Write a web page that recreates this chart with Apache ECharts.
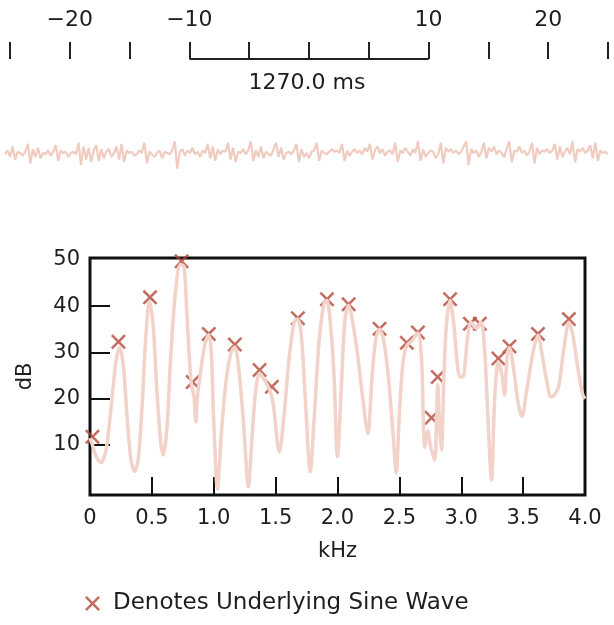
<!DOCTYPE html>
<html>
<head>
<meta charset="utf-8">
<script src="https://cdn.jsdelivr.net/npm/echarts@6/dist/echarts.min.js"></script>
<style>html,body{margin:0;padding:0;background:#fff}#c{width:614px;height:625px}</style>
</head>
<body>
<div id="c"></div>
<script>
// Top time scale
const timeTickLabels = [-20, -10, 10, 20];
const bracketRange = [-10, 10];
const bracketLabel = '1270.0 ms';

// Waveform samples (arbitrary units)
const waveform = [
 0.0, 0.3, -0.2, 0.6, -0.4, 0.2, 0.1, -0.1, 0.2,
 0.8, -0.7, 0.4, -0.2, 0.5, -0.3, 0.1, 0.0, 0.3,
 -0.1, 0.2, 0.7, -0.5, 0.3, 0.1, 0.2, -0.2, 0.1,
 0.2, 0.0, 0.9, -0.8, 0.6, -0.4, 0.5, -0.6, 0.3,
 0.7, -0.5, 0.4, -0.3, 0.2, 0.4, -0.2, 0.1, 0.6,
 -0.4, 0.8, -0.6, 0.3, 0.1, 0.2, -0.1, 0.0, 0.3,
 0.1, 0.9, -0.7, 0.2, 0.0, -0.2, 0.1, 0.3, -0.3,
 0.2, 0.1, 0.0, 0.3, 1.0, -1.1, 0.2, 0.4, -0.1,
 0.3, 0.1, 0.5, 0.0, 0.2, -0.2, 0.3, 0.1, 0.8,
 -0.3, 0.6, -0.5, 0.4, 0.0, 0.3, 0.2, 0.9, -0.4,
 0.5, -0.6, 0.2, 0.1, 0.4, 0.0, 0.3, 1.0, -0.5,
 0.3, -0.2, 0.6, -0.3, 0.2, 0.0, -0.1, 0.4, 0.9,
 -0.2, 0.5, -0.4, 0.1, 0.2, 0.0, 0.3, 0.8, -0.6,
 0.4, -0.2, 0.1, -0.3, 0.2, 0.3, 0.9, -0.5, 0.3,
 0.1, 0.0, 0.2, 0.4, 0.2, 0.3, 0.1, 0.8, -0.5,
 0.3, -0.1, 0.2, 0.4, 0.1, 0.3, 0.0, 0.5, 0.2,
 0.8, -0.4, 0.3, 0.6, 0.1, 0.4, -0.1, 0.2, 0.3,
 0.0, 0.9, -0.6, 0.3, 0.1, 0.5, 0.2, -0.1, 0.4,
 0.1, 1.0, -0.5, 0.4, -0.2, 0.1, 0.3, 0.2, -0.3,
 0.0, 0.9, -0.7, 0.5, 0.2, 0.4, 0.1, 0.3, 0.0,
 0.2, 0.6, 1.0, -0.8, 0.4, 0.1, 0.3, -0.2, 0.2,
 0.9, -0.3, 0.5, 0.2, 0.6, 0.0, 0.3, 0.1, -0.2,
 0.4, 1.0, -0.6, 0.3, 0.2, 0.6, 0.1, 0.3, -0.1,
 0.2, 0.9, -0.7, 0.5, 0.0, 0.3, 0.2, 0.4, 0.1,
 0.3, 0.8, -0.4, 0.6, -0.2, 0.2, 0.5, 0.0, 1.0,
 -0.6, 0.4, 0.2, 0.5, 0.1, 0.3, 0.7, -0.3, 0.9,
 -0.5, 0.3, 0.1, 0.2, 0.0
];

// Spectrum: frequency (kHz) and level (dB)
const specKHz = [0.00,0.02,0.05,0.09,0.13,0.17,0.21,0.24,0.27,0.30,0.33,0.36,0.39,0.42,0.45,0.48,0.51,0.54,0.57,0.59,0.62,0.65,0.69,0.73,0.76,0.78,0.80,0.82,0.84,0.855,0.87,0.90,0.93,0.96,0.98,1.00,1.03,1.06,1.10,1.14,1.17,1.20,1.24,1.28,1.31,1.34,1.37,1.40,1.45,1.48,1.53,1.57,1.61,1.65,1.68,1.71,1.74,1.78,1.81,1.85,1.89,1.915,1.94,1.97,2.00,2.03,2.06,2.09,2.12,2.16,2.20,2.245,2.28,2.31,2.34,2.37,2.41,2.45,2.475,2.50,2.53,2.56,2.60,2.65,2.68,2.705,2.73,2.75,2.785,2.80,2.81,2.825,2.84,2.86,2.88,2.91,2.94,2.97,2.99,3.02,3.05,3.08,3.12,3.16,3.19,3.21,3.245,3.27,3.30,3.33,3.35,3.37,3.39,3.42,3.46,3.49,3.53,3.58,3.62,3.65,3.69,3.725,3.76,3.79,3.83,3.87,3.90,3.94,3.98,4.00];
const specDB  = [11.5,10,7.5,6.2,9,18,28,31,27,16,7,4.3,7,18,33,41,36,22,11,7.8,13,28,43,49,48.5,40,30,23,20.5,15,21,27,32,33.8,30,15,0.5,12,24,30,31.2,27,15,1,12,22,25.5,24.5,22,19,8.5,17,29,36.5,37.2,33,20,4.2,15,32,40.5,41.2,37,26,7.5,22,37,40.2,37,30,21,12.5,25,33,35,33,25,12,4,17,28,31.5,32.5,34.2,28,9.5,13,10,6.7,15,23,14,8.9,25,36,41.2,36,27,24.7,25,33,36.5,35.2,36.5,30,19,2.4,20,28,25,20.8,29,31,27,19,16.2,22,30,33.7,30,24,20.4,21,23,31,36.5,34,27,21,20];

// Underlying sine wave markers
const sineKHz = [0.02,0.23,0.485,0.74,0.83,0.96,1.17,1.37,1.47,1.68,1.915,2.09,2.34,2.56,2.65,2.76,2.81,2.91,3.07,3.15,3.30,3.39,3.62,3.87];
const sineDB  = [11.8,32.3,41.9,49.7,23.6,34,31.7,26.2,22.6,37.4,41.5,40.4,35.1,32.1,34.3,15.9,24.7,41.5,36.2,36.2,28.7,31.3,34,37.2];

const yLabelValues = [10, 20, 30, 40, 50];
const yTickValues = [10, 20, 30, 40];
const legendText = 'Denotes Underlying Sine Wave';

const FONT = 'DejaVu Sans';
const TXT = '#1e1e1e';
const XPATH = 'path://M0,12 L12,0 L50,38 L88,0 L100,12 L62,50 L100,88 L88,100 L50,62 L12,100 L0,88 L38,50 Z';

const chart = echarts.init(document.getElementById('c'), null, {renderer: 'canvas'});
chart.setOption({
  animation: false,
  backgroundColor: '#fff',
  textStyle: {fontFamily: FONT, color: TXT},
  title: {
    text: bracketLabel, left: 'center', top: 67,
    textStyle: {fontFamily: FONT, fontSize: 22, fontWeight: 'normal', color: TXT}
  },
  legend: {
    left: 80, top: 587, itemWidth: 15, itemHeight: 16,
    icon: XPATH,
    data: [legendText],
    textStyle: {fontFamily: FONT, fontSize: 23, color: TXT, padding: [0, 0, 0, 8]}
  },
  grid: [
    {left: 10, right: 6, top: 59, height: 10},
    {left: 5, right: 6, top: 140, height: 30},
    {left: 90, right: 29, top: 258, bottom: 130, show: true, borderColor: '#111', borderWidth: 3}
  ],
  xAxis: [
    {gridIndex: 0, type: 'value', min: -25, max: 25, interval: 5, position: 'top',
     axisLine: {show: false, onZero: false}, splitLine: {show: false},
     axisTick: {show: true, length: 17, lineStyle: {color: '#222', width: 2}},
     axisLabel: {margin: 28, fontSize: 22, color: TXT, fontFamily: FONT,
       formatter: v => timeTickLabels.includes(v) ? (v < 0 ? '\u2212' + Math.abs(v) : String(v)) : ''}},
    {gridIndex: 1, type: 'value', min: 0, max: waveform.length - 1, show: false},
    {gridIndex: 2, type: 'value', min: 0, max: 4, interval: 0.5, position: 'bottom',
     name: 'kHz', nameLocation: 'middle', nameGap: 46,
     nameTextStyle: {fontSize: 21, color: TXT, fontFamily: FONT},
     axisLine: {show: false, onZero: false}, splitLine: {show: false},
     axisTick: {show: true, inside: true, length: 18, lineStyle: {color: '#111', width: 2}},
     axisLabel: {margin: 13, fontSize: 21, color: TXT, fontFamily: FONT,
       formatter: v => v === 0 ? '0' : v.toFixed(1)}}
  ],
  yAxis: [
    {gridIndex: 0, type: 'value', min: 0, max: 1, show: false},
    {gridIndex: 1, type: 'value', min: -1.2, max: 1.1, show: false},
    {gridIndex: 2, type: 'value', min: -0.8, max: 50.4,
     name: 'dB', nameLocation: 'middle', nameGap: 54, nameRotate: 90,
     nameTextStyle: {fontSize: 21, color: TXT, fontFamily: FONT},
     axisLine: {show: false, onZero: false}, splitLine: {show: false},
     axisTick: {show: true, inside: true, length: 20, customValues: yTickValues, lineStyle: {color: '#111', width: 2}},
     axisLabel: {margin: 10, fontSize: 21, color: TXT, fontFamily: FONT, customValues: yLabelValues}}
  ],
  series: [
    {type: 'line', xAxisIndex: 0, yAxisIndex: 0, symbol: 'none', silent: true,
     data: [[bracketRange[0], 1], [bracketRange[1], 1]],
     lineStyle: {color: '#222', width: 2}},
    {type: 'line', xAxisIndex: 1, yAxisIndex: 1, symbol: 'none', silent: true,
     data: waveform.map((v, i) => [i, v]),
     lineStyle: {color: '#f0cbc0', width: 2.2}},
    {type: 'line', xAxisIndex: 2, yAxisIndex: 2, symbol: 'none', smooth: 0.3, silent: true,
     data: specKHz.map((k, i) => [k, specDB[i]]),
     lineStyle: {color: '#f3d2c9', width: 3.5}},
    {type: 'scatter', name: legendText, xAxisIndex: 2, yAxisIndex: 2,
     symbol: XPATH, symbolSize: 15,
     itemStyle: {color: '#b4493b'},
     data: sineKHz.map((k, i) => [k, sineDB[i]])}
  ]
});
</script>
</body>
</html>
